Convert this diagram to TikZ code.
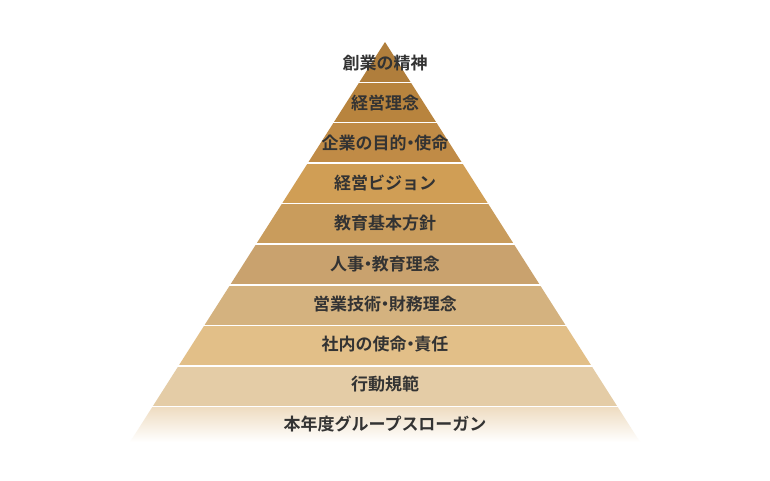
\documentclass[tikz,border=0pt]{standalone}
\usepackage{fontspec}
\newfontfamily\jp{Noto Sans CJK JP Bold}
\usetikzlibrary{calc}
\tikzset{lbl/.style={font=\jp\fontsize{17}{17}\selectfont,text=black!80,inner sep=0pt}}
\newcommand\dt{\makebox[0.45em]{・}}
\begin{document}
\begin{tikzpicture}[x=1pt,y=-1pt]
\useasboundingbox[fill=white] (0,0) rectangle (770,480);
\def\ys{{42,82.5,122.5,163,203.5,244,285,325.5,366,406.5,442}}
\foreach \i/\c in {0/B07E3C,1/B8843E,2/C08B46,3/D09E55,4/C99C5C,5/C9A26E,6/D4B27F,7/E2BF88,8/E4CCA6}{
  \pgfmathsetmacro\ya{\ys[\i]}\pgfmathsetmacro\yb{\ys[\i+1]}
  \pgfmathsetmacro\wa{(\ya-42)*0.6375}\pgfmathsetmacro\wb{(\yb-42)*0.6375}
  \definecolor{cc}{HTML}{\c}
  \fill[cc] (385-\wa,\ya) -- (385+\wa,\ya) -- (385+\wb,\yb) -- (385-\wb,\yb) -- cycle;
}
\pgfmathsetmacro\wa{(406.5-42)*0.6375}\pgfmathsetmacro\wb{(442-42)*0.6375}
\definecolor{ctop}{HTML}{EEDCC0}
\shade[top color=ctop,bottom color=white] (385-\wa,406.5) -- (385+\wa,406.5) -- (385+\wb,442) -- (385-\wb,442) -- cycle;
\foreach \i in {1,...,9}{
  \pgfmathsetmacro\ya{\ys[\i]}\pgfmathsetmacro\wa{(\ya-42)*0.6375}
  \draw[white,line width=1.2pt] (385-\wa-1,\ya) -- (385+\wa+1,\ya);}
\node[lbl] (t1) at (385,63) {創業の精神};
\node[lbl] (t2) at (385,103) {経営理念};
\node[lbl] (t3) at (385,143) {企業の目的\dt 使命};
\node[lbl] (t4) at (385,183) {経営ビジョン};
\node[lbl] (t5) at (385,223) {教育基本方針};
\node[lbl] (t6) at (385,264) {人事\dt 教育理念};
\node[lbl] (t7) at (385,304) {営業技術\dt 財務理念};
\node[lbl] (t8) at (385,344) {社内の使命\dt 責任};
\node[lbl] (t9) at (385,384) {行動規範};
\node[lbl] (t10) at (385,424) {本年度グループスローガン};
\end{tikzpicture}
\end{document}
